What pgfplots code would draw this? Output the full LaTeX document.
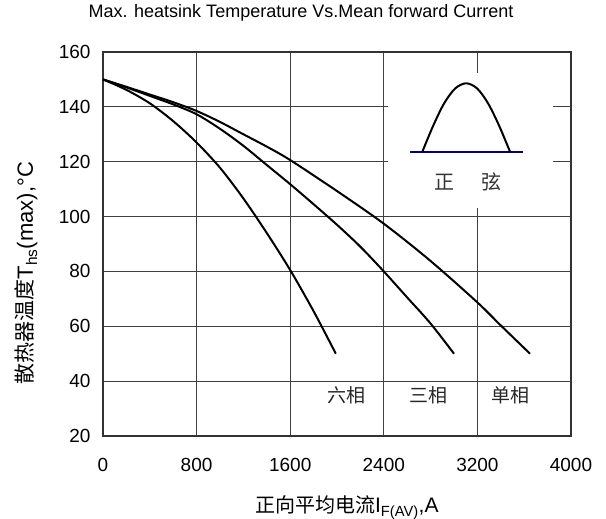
\documentclass[border=0pt]{standalone}
\usepackage{fontspec}
\setmainfont{Liberation Sans}
\newfontfamily\cjk{Noto Sans CJK SC}
\usepackage{pgfplots}
\pgfplotsset{compat=1.18}

\begin{document}
\begin{tikzpicture}
\begin{axis}[
    scale only axis,
    width=468pt, height=384pt,
    xmin=0, xmax=4000,
    ymin=20, ymax=160,
    xtick={0,800,1600,2400,3200,4000},
    ytick={20,40,60,80,100,120,140,160},
    grid=major,
    major grid style={black!75, line width=0.8pt},
    axis line style={black!80, line width=1.5pt},
    major tick length=0pt,
    scaled x ticks=false,
    /pgf/number format/1000 sep={},
    /pgf/number format/assume math mode=true,
    tick label style={font=\fontsize{19}{21}\selectfont},
    xticklabel style={yshift=-19pt},
    yticklabel style={xshift=-9pt},
    title={\fontsize{18}{20}\selectfont Max. heatsink Temperature Vs.Mean forward Current},
    title style={at={(0.423,1)}, anchor=base, yshift=28.5pt},
    xlabel={{\cjk\fontsize{20}{22}\selectfont 正向平均电流}\fontsize{21}{23}\selectfont I\textsubscript{F(AV)},A},
    xlabel style={at={(0.521,0)}, anchor=base, yshift=-77pt},
    clip=false,
]
% white box behind the waveform sketch
\fill[white] (axis cs:2436,103) rectangle (axis cs:3846,152.3);

% six-phase
\addplot[black, line width=2pt, smooth] coordinates {
    (0,150) (200,146.2) (400,141.3) (600,134.8) (800,127) (1000,117.8)
    (1200,106.6) (1400,94) (1600,80.5) (1800,65.5) (1990,50)
};
% three-phase
\addplot[black, line width=2pt, smooth] coordinates {
    (0,150) (200,147.1) (400,144) (600,140.9) (800,137.3) (1000,132)
    (1200,125.8) (1400,118.8) (1600,111.8) (1800,104.5) (2000,97)
    (2200,89) (2400,80) (2600,70.5) (2800,61) (3000,50)
};
% single-phase
\addplot[black, line width=2pt, smooth] coordinates {
    (0,150) (200,147.3) (400,144.5) (600,141.7) (800,138.5) (1000,134.5)
    (1200,130) (1400,125.5) (1600,120.6) (2000,109.3) (2400,97.4)
    (2800,83.8) (3200,68.7) (3400,60.3) (3650,50)
};

% sine sketch
\addplot[color={rgb,255:red,0;green,0;blue,128}, line width=1.8pt] coordinates {
    (2624,123.6) (3587,123.6)
};
\addplot[black, line width=2pt, smooth] coordinates {
    (2729,123.6) (2823,133.2) (2916,141.3) (3010,146.7) (3104,148.6)
    (3198,146.7) (3291,141.3) (3385,133.2) (3479,123.6)
};

\node[font=\cjk\fontsize{20}{22}\selectfont, text=black!80] at (axis cs:2923,112.7) {正};
\node[font=\cjk\fontsize{20}{22}\selectfont, text=black!80] at (axis cs:3322,112.7) {弦};

\node[font=\cjk\fontsize{19}{21}\selectfont, text=black!85] at (axis cs:2083,35) {六相};
\node[font=\cjk\fontsize{19}{21}\selectfont, text=black!85] at (axis cs:2781,35) {三相};
\node[font=\cjk\fontsize{19}{21}\selectfont, text=black!85] at (axis cs:3479,35) {单相};

% y label
\node[rotate=90, anchor=base] at ([xshift=-70pt]rel axis cs:0,0.424)
    {{\cjk\fontsize{21}{23}\selectfont 散热器温度}\fontsize{22}{24}\selectfont T\textsubscript{hs}(max),°C};
\end{axis}
\pgfresetboundingbox
\path ([shift={(-103pt,-83pt)}]current axis.south west) rectangle ([shift={(35pt,52pt)}]current axis.north east);
\end{tikzpicture}
\end{document}
